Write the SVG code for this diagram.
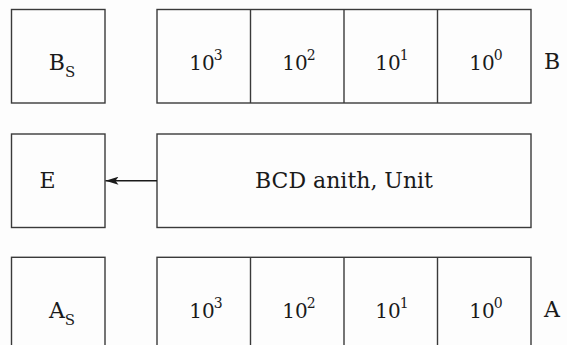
<svg xmlns="http://www.w3.org/2000/svg" width="567" height="345" viewBox="0 0 567 345">
<style>
.box{fill:none;stroke:#3a3a3a;stroke-width:1.4}
.t{font-family:"DejaVu Serif","Liberation Serif",serif;font-size:22px;fill:#1a1a1a;text-anchor:middle}
.d{font-size:20px}
.sub{font-size:15px}
.sup{font-size:14px}
.conn{stroke:#1a1a1a;stroke-width:1.4;fill:none}
</style>
<defs>
<marker id="arr" markerWidth="14" markerHeight="8" refX="13" refY="4" orient="auto" markerUnits="userSpaceOnUse">
<path d="M13,4 L0,0 L3,4 L0,8 Z" fill="#1a1a1a"/>
</marker>
</defs>
<rect width="567" height="345" fill="#fdfdfd"/>
<g id="bs">
<rect class="box" x="11.5" y="9.5" width="93.5" height="93.5"/>
<text class="t" x="62" y="70">B<tspan class="sub" dy="7">S</tspan></text>
</g>
<g id="b-register">
<rect class="box" x="157" y="9.5" width="374" height="93.5"/>
<line class="box" x1="250.5" y1="9.5" x2="250.5" y2="103"/>
<line class="box" x1="344" y1="9.5" x2="344" y2="103"/>
<line class="box" x1="437.5" y1="9.5" x2="437.5" y2="103"/>
<text class="t d" x="206" y="70">10<tspan class="sup" dx="-1" dy="-10">3</tspan></text>
<text class="t d" x="299" y="70">10<tspan class="sup" dx="-1" dy="-10">2</tspan></text>
<text class="t d" x="392" y="70">10<tspan class="sup" dx="-1" dy="-10">1</tspan></text>
<text class="t d" x="486" y="70">10<tspan class="sup" dx="-1" dy="-10">0</tspan></text>
</g>
<text class="t" x="552" y="69">B</text>
<g id="e">
<rect class="box" x="11.5" y="134" width="93.5" height="93.5"/>
<text class="t" x="47.5" y="188">E</text>
</g>
<g id="bcd">
<rect class="box" x="157" y="134" width="374" height="93.5"/>
<text class="t" x="344" y="188">BCD anith, Unit</text>
</g>
<g id="as">
<rect class="box" x="11.5" y="257.3" width="93.5" height="100"/>
<text class="t" x="62" y="318">A<tspan class="sub" dy="7">S</tspan></text>
</g>
<g id="a-register">
<rect class="box" x="157" y="257.3" width="374" height="100"/>
<line class="box" x1="250.5" y1="257.3" x2="250.5" y2="350"/>
<line class="box" x1="344" y1="257.3" x2="344" y2="350"/>
<line class="box" x1="437.5" y1="257.3" x2="437.5" y2="350"/>
<text class="t d" x="206" y="318">10<tspan class="sup" dx="-1" dy="-10">3</tspan></text>
<text class="t d" x="299" y="318">10<tspan class="sup" dx="-1" dy="-10">2</tspan></text>
<text class="t d" x="392" y="318">10<tspan class="sup" dx="-1" dy="-10">1</tspan></text>
<text class="t d" x="486" y="318">10<tspan class="sup" dx="-1" dy="-10">0</tspan></text>
</g>
<text class="t" x="552" y="317">A</text>
<g id="connectors">
<line class="conn" x1="157" y1="180.7" x2="105.5" y2="180.7" marker-end="url(#arr)"/>
</g>
</svg>
